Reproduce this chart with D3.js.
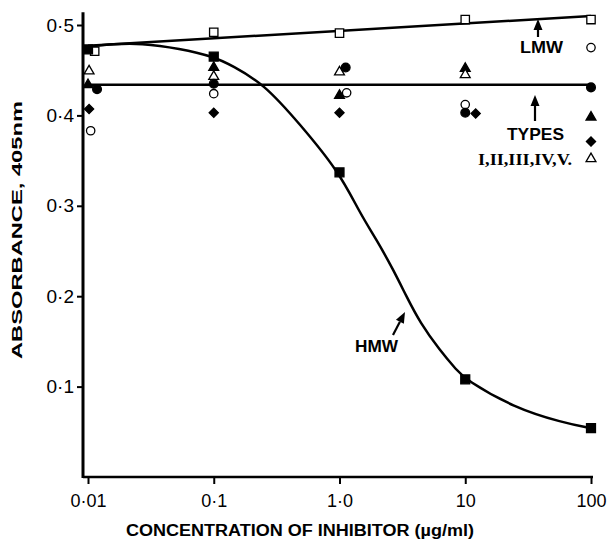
<!DOCTYPE html>
<html>
<head>
<meta charset="utf-8">
<script src="https://cdn.jsdelivr.net/npm/d3@7"></script>
<style>
  body { margin: 0; background: #fff; }
  svg { display: block; }
  text { fill: #000; }
</style>
</head>
<body>
<svg id="chart" width="616" height="543"></svg>
<script>
// values (concentration in ug/ml, absorbance at 405nm)

var xTicks = [0.01, 0.1, 1, 10, 100];
var xTickLabels = ['0·01', '0·1', '1·0', '10', '100'];
var yTicks = [0.1, 0.2, 0.3, 0.4, 0.5];
var yTickLabels = ['0·1', '0·2', '0·3', '0·4', '0·5'];

// LMW inhibitor (open squares) + its straight fit
var lmwConc = [0.0113, 0.1, 1, 10, 100];
var lmwAbs = [0.471, 0.492, 0.491, 0.506, 0.506];
var lmwFitConc = [0.01, 100];
var lmwFitAbs = [0.477, 0.510];

// HMW inhibitor (filled squares) + fitted curve
var hmwConc = [0.01, 0.1, 1, 10, 100];
var hmwAbs = [0.473, 0.465, 0.337, 0.108, 0.054];
var hmwFitConc = [0.01, 0.016, 0.026, 0.054, 0.1, 0.14, 0.25, 0.48, 1.0, 1.45, 1.98, 2.66, 3.43, 4.36, 6.28, 8.58, 10, 24, 60, 100];
var hmwFitAbs = [0.476, 0.479, 0.480, 0.474, 0.465, 0.455, 0.435, 0.391, 0.337, 0.292, 0.262, 0.230, 0.199, 0.171, 0.140, 0.118, 0.108, 0.077, 0.060, 0.054];

// types I-V, one symbol each, plus the common horizontal line
var typeNames = ['open circle', 'filled triangle', 'filled diamond', 'open triangle', 'filled circle'];
var typeConc = [
  [0.0105, 0.1, 1.14, 10, 100],
  [0.01, 0.1, 1, 10, 100],
  [0.0102, 0.1, 1, 12.1, 100],
  [0.0102, 0.1, 1, 10, 100],
  [0.0118, 0.1, 1.12, 10, 100]
];
var typeAbs = [
  [0.383, 0.424, 0.425, 0.412, 0.475],
  [0.434, 0.453, 0.422, 0.452, 0.398],
  [0.407, 0.403, 0.403, 0.402, 0.371],
  [0.449, 0.443, 0.448, 0.445, 0.352],
  [0.429, 0.435, 0.453, 0.403, 0.431]
];
var typesFitConc = [0.01, 100];
var typesFitAbs = [0.434, 0.434];


var svg = d3.select('#chart');

var x = d3.scaleLog().domain([0.01, 100]).range([88, 591]);
var y = d3.scaleLinear().domain([0, 0.5]).range([477, 25]);

var font = '"Liberation Sans", Arial, sans-serif';

// axes
var xAxis = svg.append('g').attr('transform', 'translate(0,' + y(0) + ')')
  .call(d3.axisBottom(x).tickValues(xTicks).tickSize(7).tickPadding(10)
    .tickFormat(function(d, i){ return xTickLabels[i]; }));
xAxis.select('.domain').remove();
xAxis.selectAll('line').attr('stroke', '#000').attr('stroke-width', 2);
xAxis.selectAll('text').attr('font-family', font).attr('font-size', 18).style('fill', '#000');

var yAxis = svg.append('g').attr('transform', 'translate(83,0)')
  .call(d3.axisLeft(y).tickValues(yTicks).tickSize(6).tickPadding(3)
    .tickFormat(function(d, i){ return yTickLabels[i]; }));
yAxis.select('.domain').remove();
yAxis.selectAll('line').attr('stroke', '#000').attr('stroke-width', 2);
yAxis.selectAll('text').attr('font-family', font).attr('font-size', 19).style('fill', '#000');

svg.append('line')
  .attr('x1', 83).attr('x2', x(100) + 2)
  .attr('y1', y(0)).attr('y2', y(0))
  .attr('stroke', '#000').attr('stroke-width', 2.5);
svg.append('line')
  .attr('x1', 83).attr('x2', 83)
  .attr('y1', y(0) + 1).attr('y2', y(0.514))
  .attr('stroke', '#000').attr('stroke-width', 3);

// axis titles
svg.append('text')
  .attr('x', 300).attr('y', 536)
  .attr('text-anchor', 'middle')
  .attr('font-family', font).attr('font-size', 16).attr('font-weight', 'bold')
  .attr('textLength', 348).attr('lengthAdjust', 'spacingAndGlyphs')
  .text('CONCENTRATION OF INHIBITOR (µg/ml)');

svg.append('text')
  .attr('transform', 'translate(22,230) rotate(-90)')
  .attr('text-anchor', 'middle')
  .attr('font-family', font).attr('font-size', 15).attr('font-weight', 'bold')
  .attr('textLength', 258).attr('lengthAdjust', 'spacingAndGlyphs')
  .text('ABSORBANCE,  405nm');

// fitted lines
var line = d3.line()
  .x(function(d){ return x(d[0]); })
  .y(function(d){ return y(d[1]); });

var drawFit = function(cs, vs, curve){
  svg.append('path')
    .attr('d', line.curve(curve)(d3.zip(cs, vs)))
    .attr('fill', 'none')
    .attr('stroke', '#000')
    .attr('stroke-width', 2.5);
};
drawFit(lmwFitConc, lmwFitAbs, d3.curveLinear);
drawFit(typesFitConc, typesFitAbs, d3.curveLinear);
drawFit(hmwFitConc, hmwFitAbs, d3.curveBasis);

// markers
var shapes = {
  'square': d3.symbolSquare,
  'circle': d3.symbolCircle,
  'triangle': d3.symbolTriangle,
  'diamond': d3.symbolSquare
};

var drawPoints = function(cs, vs, shape, filled, size){
  svg.append('g').selectAll('path')
    .data(d3.zip(cs, vs))
    .enter().append('path')
    .attr('transform', function(d){
      var t = 'translate(' + x(d[0]) + ',' + y(d[1]) + ')';
      if(shape == 'diamond') t += ' rotate(45)';
      return t;
    })
    .attr('d', d3.symbol().type(shapes[shape]).size(size))
    .attr('fill', filled ? '#000' : '#fff')
    .attr('stroke', '#000')
    .attr('stroke-width', 1.3);
};

var typeStyle = [
  ['circle', false, 55],
  ['triangle', true, 42],
  ['diamond', true, 42],
  ['triangle', false, 42],
  ['circle', true, 60]
];
typeStyle.forEach(function(s, i){
  drawPoints(typeConc[i], typeAbs[i], s[0], s[1], s[2]);
});
drawPoints(lmwConc, lmwAbs, 'square', false, 70);
drawPoints(hmwConc, hmwAbs, 'square', true, 80);

// labels and arrows
var arrow = function(x1, y1, x2, y2){
  var a = Math.atan2(y2 - y1, x2 - x1);
  var len = 11, w = 4.5;
  var bx = x2 - len * Math.cos(a), by = y2 - len * Math.sin(a);
  svg.append('line')
    .attr('x1', x1).attr('y1', y1).attr('x2', bx).attr('y2', by)
    .attr('stroke', '#000').attr('stroke-width', 2.2);
  svg.append('path')
    .attr('d', 'M' + x2 + ',' + y2 +
      'L' + (bx + w * Math.sin(a)) + ',' + (by - w * Math.cos(a)) +
      'L' + (bx - w * Math.sin(a)) + ',' + (by + w * Math.cos(a)) + 'Z')
    .attr('fill', '#000');
};

var label = function(t, lx, ly, len, fam){
  svg.append('text')
    .attr('x', lx).attr('y', ly)
    .attr('font-family', fam || font).attr('font-size', 17).attr('font-weight', 'bold')
    .attr('textLength', len).attr('lengthAdjust', 'spacingAndGlyphs')
    .text(t);
};

arrow(538, 37, 538, 19);
label('LMW', 520, 53, 43);

arrow(535, 121, 535, 95);
label('TYPES', 507, 140, 57);
label('I,II,III,IV,V.', 478, 165, 94, '"Liberation Serif", "DejaVu Serif", serif');

arrow(393, 335, 405, 312);
label('HMW', 355, 352, 43);
</script>
</body>
</html>
